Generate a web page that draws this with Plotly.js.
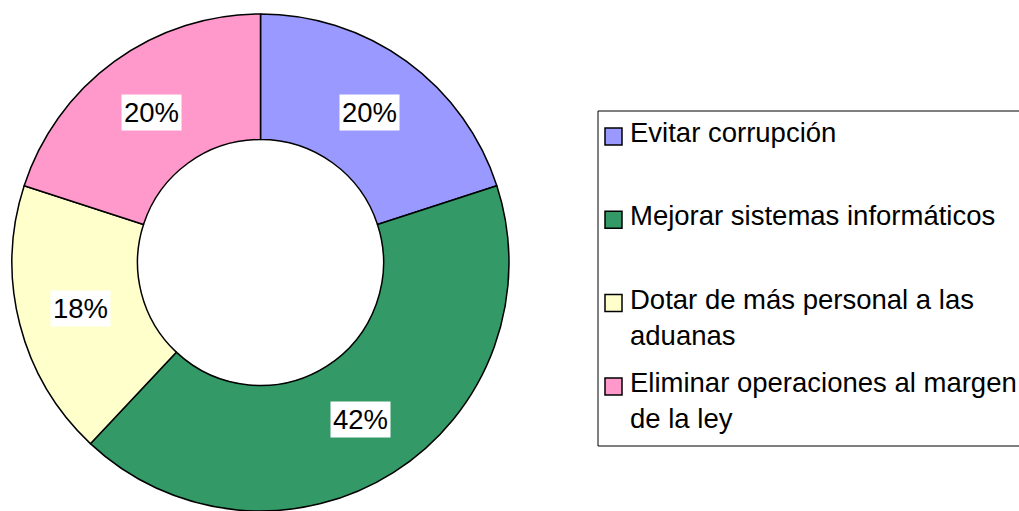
<!DOCTYPE html>
<html><head><meta charset="utf-8">
<script src="https://cdn.plot.ly/plotly-3.0.1.min.js"></script>
<style>html,body{margin:0;padding:0;background:#fff;} #chart{width:1019px;height:511px;}</style>
</head><body><div id="chart"></div>
<script>
const categories = ["Evitar corrupción", "Mejorar sistemas informáticos", "Dotar de más personal a las aduanas", "Eliminar operaciones al margen de la ley"];
const legendLabels = ["Evitar corrupción", "Mejorar sistemas informáticos", "Dotar de más personal a las<br>aduanas", "Eliminar operaciones al margen<br>de la ley"];
const values = [20, 42, 18, 20];
const colors = ["#9999FF", "#339966", "#FFFFCC", "#FF99CC"];

const W = 1019, H = 511;
const pieLeft = 12, pieRight = 509, pieTop = 14, pieBottom = 511;
const hole = 0.495;
const FONT = '"Liberation Sans", Arial, sans-serif';
const fs = 27.5;

const total = values.reduce((a, b) => a + b, 0);
const cx = (pieLeft + pieRight) / 2, cy = (pieTop + pieBottom) / 2, R = (pieRight - pieLeft) / 2;
const rMid = R * (1 + hole) / 2;
const px2x = p => p / W, py2y = p => 1 - p / H;

const annotations = [], shapes = [];
let cum = 0;
values.forEach((v, i) => {
  const mid = (cum + v / 2) / total * 2 * Math.PI; cum += v;
  const x = cx + rMid * Math.sin(mid), y = cy - rMid * Math.cos(mid);
  annotations.push({xref: 'paper', yref: 'paper', x: px2x(x), y: py2y(y), xanchor: 'center', yanchor: 'middle',
    text: Math.round(v / total * 100) + '%', showarrow: false, bgcolor: '#ffffff', borderpad: 2,
    font: {family: FONT, size: fs, color: '#000'}});
});

// legend box
const legTop = 111, legBottom = 446, legLeft = 598, legRight = 1030;
shapes.push({type: 'rect', xref: 'paper', yref: 'paper', x0: px2x(legLeft), x1: px2x(legRight), y0: py2y(legTop), y1: py2y(legBottom),
  line: {color: '#000', width: 1}, fillcolor: 'rgba(0,0,0,0)'});
const slot = 83.3, sw = 17, swTop0 = 128;
categories.forEach((c, i) => {
  const t = swTop0 + i * slot;
  shapes.push({type: 'rect', xref: 'paper', yref: 'paper', x0: px2x(605), x1: px2x(622), y0: py2y(t), y1: py2y(t + sw),
    fillcolor: colors[i], line: {color: '#000', width: 1.5}});
  annotations.push({xref: 'paper', yref: 'paper', x: px2x(629), y: py2y(t - 12), xanchor: 'left', yanchor: 'top', align: 'left',
    text: legendLabels[i], showarrow: false, borderpad: 0, font: {family: FONT, size: fs, color: '#000'}});
});

const data = [{
  type: 'pie', labels: categories, values: values, hole: hole, sort: false, direction: 'clockwise', rotation: 0,
  marker: {colors: colors, line: {color: '#000', width: 1.5}}, textinfo: 'none', hoverinfo: 'skip', showlegend: false,
  domain: {x: [px2x(pieLeft), px2x(pieRight)], y: [py2y(pieBottom), py2y(pieTop)]}
}];

const layout = {width: W, height: H, margin: {l: 0, r: 0, t: 0, b: 0}, paper_bgcolor: '#fff', plot_bgcolor: '#fff',
  showlegend: false, annotations: annotations, shapes: shapes, font: {family: FONT}};

Plotly.newPlot('chart', data, layout, {displayModeBar: false, staticPlot: true});
</script>
</body></html>
